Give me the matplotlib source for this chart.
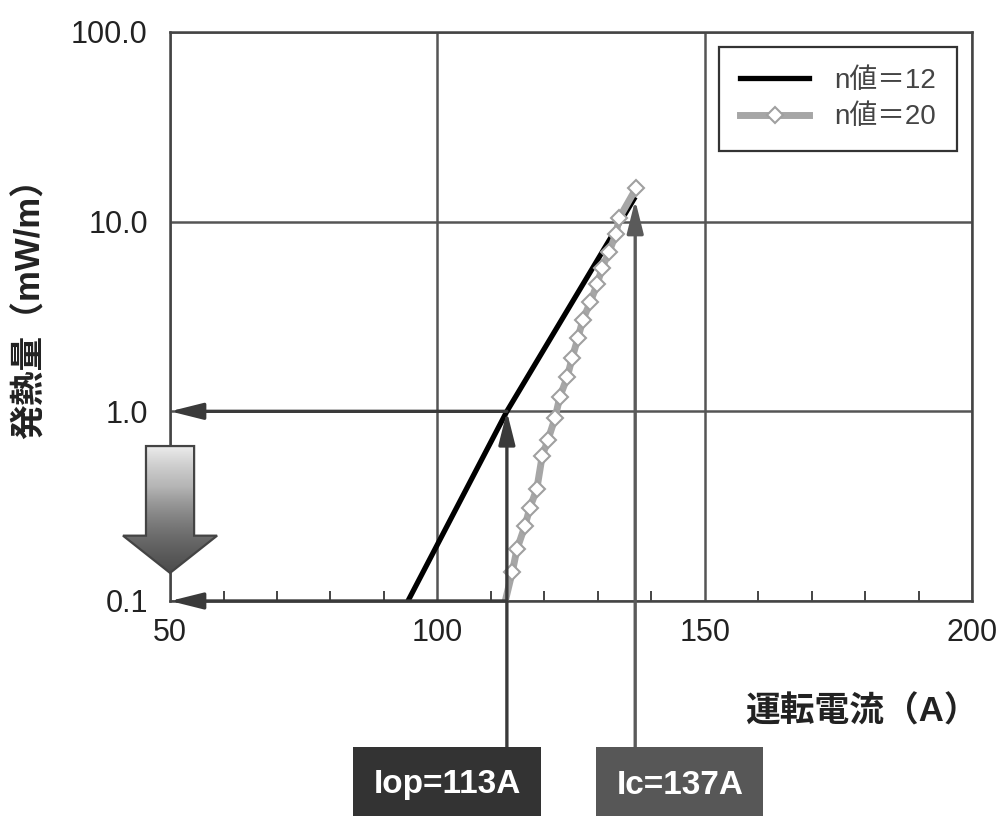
import numpy as np
import matplotlib
matplotlib.use("Agg")
import matplotlib.pyplot as plt
from matplotlib.patches import Polygon, Rectangle
from matplotlib.lines import Line2D
from matplotlib.colors import LinearSegmentedColormap
from matplotlib.ticker import NullLocator

plt.rcParams["font.family"] = ["Liberation Sans", "Noto Sans CJK JP"]

# n値=12 の発熱量カーブ
current_n12 = [94.5, 113.0, 137.0]
heat_n12 = [0.1, 1.0, 13.5]

# n値=20 の発熱量カーブ（先頭点はマーカーなし）
current_n20 = [112.7, 114.0, 114.9, 116.4, 117.3, 118.6, 119.6, 120.7, 122.0, 122.9,
               124.3, 125.2, 126.3, 127.2, 128.6, 129.9, 130.8, 132.1, 133.4, 134.0, 137.2]
heat_n20 = [0.10, 0.142, 0.188, 0.25, 0.31, 0.39, 0.58, 0.71, 0.92, 1.19,
            1.52, 1.91, 2.44, 3.03, 3.77, 4.69, 5.70, 6.92, 8.61, 10.45, 15.05]

series_labels = ["n値＝12", "n値＝20"]

IOP = 113       # 運転電流
IC = 137        # 臨界電流
IC_HEAT = 13.0  # Ic での発熱量

x_ticks = [50, 100, 150, 200]
y_ticks = [0.1, 1.0, 10.0, 100.0]
y_tick_labels = ["0.1", "1.0", "10.0", "100.0"]

GRID = "#555555"
DARK = "#3a3a3a"
MID = "#5a5a5a"

fig = plt.figure(figsize=(10.05, 8.16), dpi=100)
ax = fig.add_axes([0.1692, 0.2635, 0.798, 0.6973])
ax.set_yscale("log")

# カーブ
ax.plot(current_n12, heat_n12, color="black", lw=3.8, solid_capstyle="butt", zorder=3)
ax.plot(current_n20, heat_n20, color="#a6a6a6", lw=5, zorder=4)
ax.plot(current_n20[1:], heat_n20[1:], ls="none", marker="D", ms=8,
        mfc="white", mec="#a0a0a0", mew=1.5, zorder=4)

# 矢印
arrow_kw = dict(arrowstyle="-|>,head_length=1.0,head_width=0.25", color=DARK, lw=2.4,
                mutation_scale=20, shrinkA=0, shrinkB=0)
ax.annotate("", xy=(50, 1.0), xytext=(IOP, 1.0), arrowprops=arrow_kw, zorder=5)
ax.annotate("", xy=(50, 0.1), xytext=(IOP, 0.1), arrowprops=arrow_kw, zorder=5,
            annotation_clip=False)

box_top = 1 - 747 / 816
ax.annotate("", xy=(IOP, 1.0), xytext=(IOP, box_top), textcoords=("data", "figure fraction"),
            arrowprops=arrow_kw, zorder=5, annotation_clip=False)
ic_kw = dict(arrow_kw, color=MID)
ax.annotate("", xy=(IC, IC_HEAT), xytext=(IC, box_top), textcoords=("data", "figure fraction"),
            arrowprops=ic_kw, zorder=5, annotation_clip=False)

# 下向きの大きな矢印（グラデーション）
arrow_shape = [(45.5, 0.656), (54.5, 0.656), (54.5, 0.221), (58.8, 0.221),
               (50.0, 0.1406), (41.2, 0.221), (45.5, 0.221)]
clip_poly = Polygon(arrow_shape, closed=True, facecolor="none", edgecolor="none")
ax.add_patch(clip_poly)
grad = np.linspace(0, 1, 256).reshape(-1, 1)
cmap = LinearSegmentedColormap.from_list("arrow", ["#ededed", "#b5b5b5", "#4d4d4d"])
im = ax.imshow(grad, cmap=cmap, extent=(41.2, 58.8, 0.1406, 0.656), origin="upper",
               aspect="auto", zorder=6, interpolation="bilinear")
im.set_clip_path(clip_poly)
im.set_clip_box(fig.bbox)
ax.add_patch(Polygon(arrow_shape, closed=True, facecolor="none", edgecolor="#444444",
                     lw=1.6, zorder=7, clip_on=False))

# 軸
ax.set_xlim(50, 200)
ax.set_ylim(0.1, 100)
ax.set_xticks(x_ticks)
ax.set_xticks(np.arange(60, 200, 10), minor=True)
ax.set_yticks(y_ticks, y_tick_labels)
ax.yaxis.set_minor_locator(NullLocator())
ax.tick_params(axis="both", which="major", length=0, labelsize=22, labelcolor="#222222")
ax.tick_params(axis="x", which="major", pad=12)
ax.tick_params(axis="y", which="major", pad=16)
ax.tick_params(axis="x", which="minor", direction="in", length=7, width=1.4, color="#444444")
ax.tick_params(axis="y", which="minor", length=0)
ax.grid(True, which="major", color=GRID, lw=1.8)
ax.set_axisbelow(True)
for s in ax.spines.values():
    s.set_color("#444444")
    s.set_linewidth(1.8)

ax.set_xlabel("運転電流（A）", fontsize=25, fontweight="bold", color="#222222")
ax.xaxis.set_label_coords(0.863, -0.195)
ax.xaxis.label.set_va("center")
ax.set_ylabel("発熱量（mW/m）", fontsize=25, fontweight="bold", color="#222222")
ax.yaxis.set_label_coords(-0.1746, 0.529)
ax.yaxis.label.set_va("center")

# 凡例
handles = [Line2D([], [], color="black", lw=3.8),
           Line2D([], [], color="#a6a6a6", lw=5, marker="D", ms=8,
                  mfc="white", mec="#a0a0a0", mew=1.5)]
leg = ax.legend(handles, series_labels, loc="upper left", bbox_to_anchor=(0.6845, 0.9736),
                borderaxespad=0, fancybox=False, edgecolor="#333333", framealpha=1,
                fontsize=20, handlelength=2.5, handletextpad=0.9, labelspacing=0.38,
                borderpad=0.75)
leg.get_frame().set_linewidth(1.6)
for t in leg.get_texts():
    t.set_color("#444444")

# 電流値ボックス
fig.add_artist(Rectangle((353 / 1005, 0), 188 / 1005, 69 / 816, transform=fig.transFigure,
                         facecolor="#333333", edgecolor="none"))
fig.text(447 / 1005, 1 - 785 / 816, f"Iop={IOP}A", color="white", fontsize=24,
         fontweight="bold", ha="center", va="center")
fig.add_artist(Rectangle((596 / 1005, 0), 167 / 1005, 69 / 816, transform=fig.transFigure,
                         facecolor="#575757", edgecolor="none"))
fig.text(680 / 1005, 1 - 785 / 816, f"Ic={IC}A", color="white", fontsize=24,
         fontweight="bold", ha="center", va="center")

fig.savefig("out.png", dpi=100)
